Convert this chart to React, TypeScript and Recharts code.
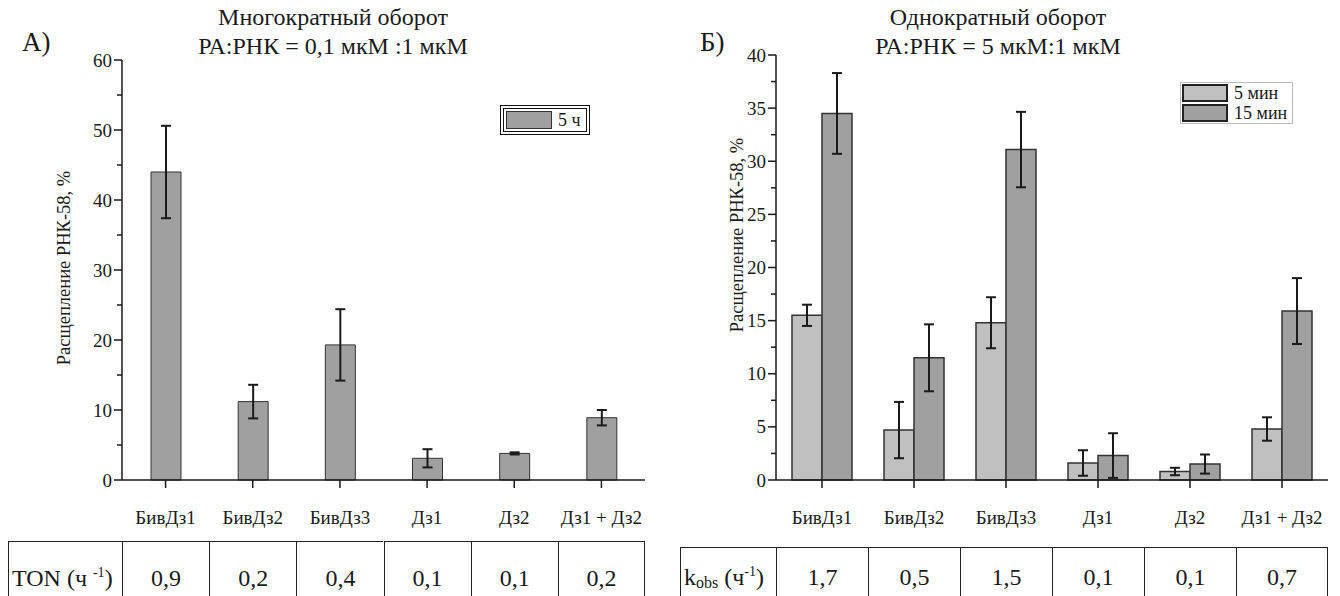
import React from "react";
import { BarChart, Bar, XAxis, YAxis, ErrorBar, Legend } from "recharts";

const FONT = '"Liberation Serif", "Times New Roman", serif';
const INK = "#1a1a1a";

const categories = ["БивДз1", "БивДз2", "БивДз3", "Дз1", "Дз2", "Дз1 + Дз2"];

// А) многократный оборот, 5 ч
const multi5h = [44.0, 11.2, 19.3, 3.1, 3.8, 8.9];
const multi5hErr = [6.6, 2.4, 5.1, 1.3, 0.15, 1.1];
const tonValues = ["0,9", "0,2", "0,4", "0,1", "0,1", "0,2"];

// Б) однократный оборот, 5 и 15 мин
const single5min = [15.5, 4.7, 14.8, 1.6, 0.8, 4.8];
const single5minErr = [1.0, 2.65, 2.4, 1.2, 0.35, 1.1];
const single15min = [34.5, 11.5, 31.1, 2.3, 1.5, 15.9];
const single15minErr = [3.8, 3.15, 3.55, 2.1, 0.9, 3.1];
const kobsValues = ["1,7", "0,5", "1,5", "0,1", "0,1", "0,7"];

const seriesNamesB = ["5 мин", "15 мин"];

const ticksA = [0, 5, 10, 15, 20, 25, 30, 35, 40, 45, 50, 55, 60];
const ticksB = [0, 2.5, 5, 7.5, 10, 12.5, 15, 17.5, 20, 22.5, 25, 27.5, 30, 32.5, 35, 37.5, 40];

const dataA = categories.map((name, i) => ({ name, h5: multi5h[i], h5Err: multi5hErr[i] }));
const dataB = categories.map((name, i) => ({
  name,
  m5: single5min[i],
  m5Err: single5minErr[i],
  m15: single15min[i],
  m15Err: single15minErr[i],
}));

// plot boxes (page px)
const A = { left: 122, right: 645, top: 60, bottom: 480 };
const B = { left: 776, right: 1328, top: 55, bottom: 480 };
const PANEL_W = 670;
const H = 596;
const XAXIS_H = 40;

function makeYTick(step: number) {
  return (props: any) => {
    const { x, y, payload } = props;
    const v = payload.value;
    const major = Math.abs(v / step - Math.round(v / step)) < 1e-6;
    return (
      <g>
        <line x1={x - (major ? 8 : 5)} x2={x} y1={y} y2={y} stroke={INK} strokeWidth={1.5} />
        {major && (
          <text x={x - 10} y={y} dy={6.5} textAnchor="end" fontSize={19} fill={INK} fontFamily={FONT}>
            {v}
          </text>
        )}
      </g>
    );
  };
}

function XTick(props: any) {
  const { x, y, payload } = props;
  return (
    <g>
      <line x1={x} x2={x} y1={y} y2={y + 8} stroke={INK} strokeWidth={1.5} />
      <text x={x} y={y + 44} textAnchor="middle" fontSize={19} fill={INK} fontFamily={FONT}>
        {payload.value}
      </text>
    </g>
  );
}

function LegendBox({ payload, double, order }: any) {
  const items = [...(payload || [])];
  if (order) items.sort((a: any, b: any) => order.indexOf(a.value) - order.indexOf(b.value));
  return (
    <div
      style={{
        background: "#fff",
        border: double ? "4px double #111" : "1px solid #bbb",
        padding: double ? "1px 5px 1px 2px" : "0px 5px 0px 1px",
        fontFamily: FONT,
        fontSize: 18,
        color: INK,
      }}
    >
      {items.map((p: any) => (
        <div key={p.value} style={{ display: "flex", alignItems: "center", height: 20 }}>
          <div
            style={{
              width: 46,
              height: 18,
              background: p.color,
              border: double ? "1px solid #333" : "2px solid #222",
              marginRight: 6,
              boxSizing: "border-box",
            }}
          />
          <span style={{ whiteSpace: "nowrap" }}>{p.value}</span>
        </div>
      ))}
    </div>
  );
}

function ValueTable({ left, top, right, bandLeft, head, values, padTop }: any) {
  const bw = (right - bandLeft) / values.length;
  const cell: React.CSSProperties = {
    position: "absolute",
    top,
    height: 90,
    borderTop: "1.5px solid #222",
    borderLeft: "1.5px solid #222",
    boxSizing: "border-box",
    fontFamily: FONT,
    fontSize: 24,
    lineHeight: "28px",
    color: INK,
    textAlign: "center",
    paddingTop: padTop,
  };
  return (
    <>
      <div style={{ ...cell, left, width: bandLeft - left, textAlign: "left", paddingLeft: 3 }}>{head}</div>
      {values.map((v: string, i: number) => (
        <div
          key={i}
          style={{
            ...cell,
            left: bandLeft + i * bw,
            width: bw,
            borderRight: i === values.length - 1 ? "1.5px solid #222" : undefined,
          }}
        >
          {v}
        </div>
      ))}
    </>
  );
}

function Title({ cx, lines }: { cx: number; lines: string[] }) {
  return (
    <div
      style={{
        position: "absolute",
        left: cx - 250,
        width: 500,
        top: 3,
        textAlign: "center",
        fontFamily: FONT,
        fontSize: 24,
        lineHeight: "29px",
        color: INK,
      }}
    >
      {lines.map((l) => (
        <div key={l}>{l}</div>
      ))}
    </div>
  );
}

function YLabel({ cx, cy }: { cx: number; cy: number }) {
  return (
    <div
      style={{
        position: "absolute",
        left: cx - 150,
        top: cy - 12,
        width: 300,
        height: 24,
        lineHeight: "24px",
        textAlign: "center",
        transform: "rotate(-90deg)",
        fontFamily: FONT,
        fontSize: 18.5,
        color: INK,
        whiteSpace: "nowrap",
      }}
    >
      Расщепление РНК-58, %
    </div>
  );
}

export default function App() {
  return (
    <div
      style={{
        position: "absolute",
        left: 0,
        top: 0,
        width: 1340,
        height: H,
        overflow: "hidden",
        background: "#fff",
      }}
    >
      {/* ---------- А ---------- */}
      <div style={{ position: "absolute", left: 22, top: 27, fontFamily: FONT, fontSize: 27, color: INK }}>А)</div>
      <Title cx={333} lines={["Многократный оборот", "РА:РНК = 0,1 мкМ :1 мкМ"]} />
      <YLabel cx={64} cy={268} />
      <div style={{ position: "absolute", left: 0, top: 0 }}>
        <BarChart
          width={PANEL_W}
          height={H}
          data={dataA}
          margin={{ top: A.top, right: PANEL_W - A.right, left: 0, bottom: H - A.bottom - XAXIS_H }}
          barSize={30}
        >
          <XAxis
            dataKey="name"
            height={XAXIS_H}
            interval={0}
            tickSize={0}
            tickMargin={0}
            tick={<XTick />}
            axisLine={{ stroke: INK, strokeWidth: 1.5 }}
          />
          <YAxis
            width={A.left}
            domain={[0, 60]}
            ticks={ticksA}
            interval={0}
            tickSize={0}
            tickMargin={0}
            tick={makeYTick(10)}
            axisLine={{ stroke: INK, strokeWidth: 1.5 }}
          />
          <Legend
            layout="vertical"
            align="center"
            verticalAlign="middle"
            wrapperStyle={{ left: 500, top: 105, width: "auto" }}
            content={(p: any) => <LegendBox payload={p.payload} double />}
          />
          <Bar dataKey="h5" name="5 ч" fill="#a0a0a0" stroke="#333" strokeWidth={1} isAnimationActive={false}>
            <ErrorBar dataKey="h5Err" width={5} stroke={INK} strokeWidth={2} direction="y" />
          </Bar>
        </BarChart>
      </div>
      <ValueTable
        left={8}
        top={541}
        right={A.right}
        bandLeft={A.left}
        padTop={22}
        head={
          <span>
            TON (ч <sup style={{ fontSize: 14, lineHeight: 0 }}>-1</sup>)
          </span>
        }
        values={tonValues}
      />

      {/* ---------- Б ---------- */}
      <div style={{ position: "absolute", left: 700, top: 27, fontFamily: FONT, fontSize: 27, color: INK }}>Б)</div>
      <Title cx={998} lines={["Однократный оборот", "РА:РНК = 5 мкМ:1 мкМ"]} />
      <YLabel cx={737} cy={235} />
      <div style={{ position: "absolute", left: PANEL_W, top: 0 }}>
        <BarChart
          width={PANEL_W}
          height={H}
          data={dataB}
          margin={{ top: B.top, right: 2 * PANEL_W - B.right, left: 0, bottom: H - B.bottom - XAXIS_H }}
          barSize={30}
          barGap={0}
        >
          <XAxis
            dataKey="name"
            height={XAXIS_H}
            interval={0}
            tickSize={0}
            tickMargin={0}
            tick={<XTick />}
            axisLine={{ stroke: INK, strokeWidth: 1.5 }}
          />
          <YAxis
            width={B.left - PANEL_W}
            domain={[0, 40]}
            ticks={ticksB}
            interval={0}
            tickSize={0}
            tickMargin={0}
            tick={makeYTick(5)}
            axisLine={{ stroke: INK, strokeWidth: 1.5 }}
          />
          <Legend
            layout="vertical"
            align="center"
            verticalAlign="middle"
            wrapperStyle={{ left: 1180 - PANEL_W, top: 82, width: "auto" }}
            content={(p: any) => <LegendBox payload={p.payload} order={seriesNamesB} />}
          />
          <Bar dataKey="m5" name={seriesNamesB[0]} fill="#c0c0c0" stroke="#333" strokeWidth={1.5} isAnimationActive={false}>
            <ErrorBar dataKey="m5Err" width={5} stroke={INK} strokeWidth={2} direction="y" />
          </Bar>
          <Bar dataKey="m15" name={seriesNamesB[1]} fill="#a0a0a0" stroke="#333" strokeWidth={1.5} isAnimationActive={false}>
            <ErrorBar dataKey="m15Err" width={5} stroke={INK} strokeWidth={2} direction="y" />
          </Bar>
        </BarChart>
      </div>
      <ValueTable
        left={680}
        top={547}
        right={B.right}
        bandLeft={B.left}
        padTop={15}
        head={
          <span>
            k<sub style={{ fontSize: 16, lineHeight: 0, verticalAlign: "-3px" }}>obs</sub> (ч
            <sup style={{ fontSize: 14, lineHeight: 0 }}>-1</sup>)
          </span>
        }
        values={kobsValues}
      />
    </div>
  );
}
